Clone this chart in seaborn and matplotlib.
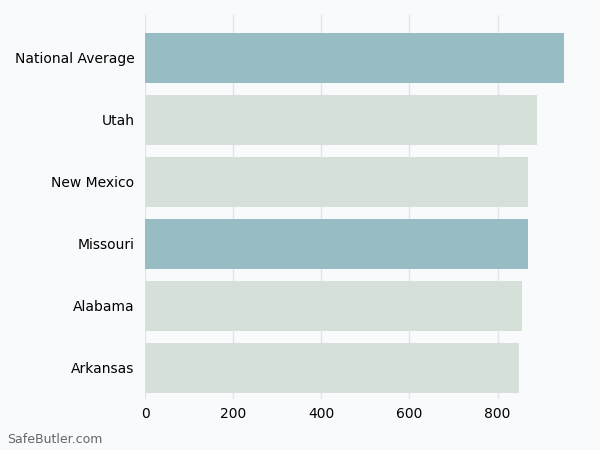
import matplotlib
matplotlib.use("Agg")
import matplotlib.pyplot as plt
import seaborn as sns
import pandas as pd

states = ["National Average", "Utah", "New Mexico", "Missouri", "Alabama", "Arkansas"]
values = [951, 890, 870, 870, 856, 849]
highlight = ["National Average", "Missouri"]

bg = "#f9fafc"
colors = ["#97bcc4" if s in highlight else "#d5e1d8" for s in states]

df = pd.DataFrame({"state": states, "value": values})

sns.set_style("whitegrid")
plt.rcParams["font.family"] = ["DejaVu Sans"]

fig = plt.figure(figsize=(6, 4.5), dpi=100, facecolor=bg)
ax = fig.add_axes([0.2417, 0.1133, 0.733, 0.8533])
ax.set_facecolor(bg)

sns.barplot(data=df, x="value", y="state", hue="state", palette=colors,
            legend=False, width=0.8, saturation=1, linewidth=0, ax=ax)

ax.set_ylim(5.5, -0.69)
ax.set_xlim(0, 998)
ax.set_xticks([0, 200, 400, 600, 800])
ax.set_xlabel("")
ax.set_ylabel("")
ax.grid(axis="y", visible=False)
ax.grid(axis="x", color="#e4e4e8", linewidth=1)
ax.set_axisbelow(True)
for sp in ax.spines.values():
    sp.set_visible(False)
ax.tick_params(axis="both", length=4, width=0.8, color="#333333",
               labelsize=10, labelcolor="black")
ax.tick_params(axis="x", pad=2)

fig.text(0.012, 0.015, "SafeButler.com", fontsize=9, color="#666666")

fig.savefig("out.png", facecolor=bg)
